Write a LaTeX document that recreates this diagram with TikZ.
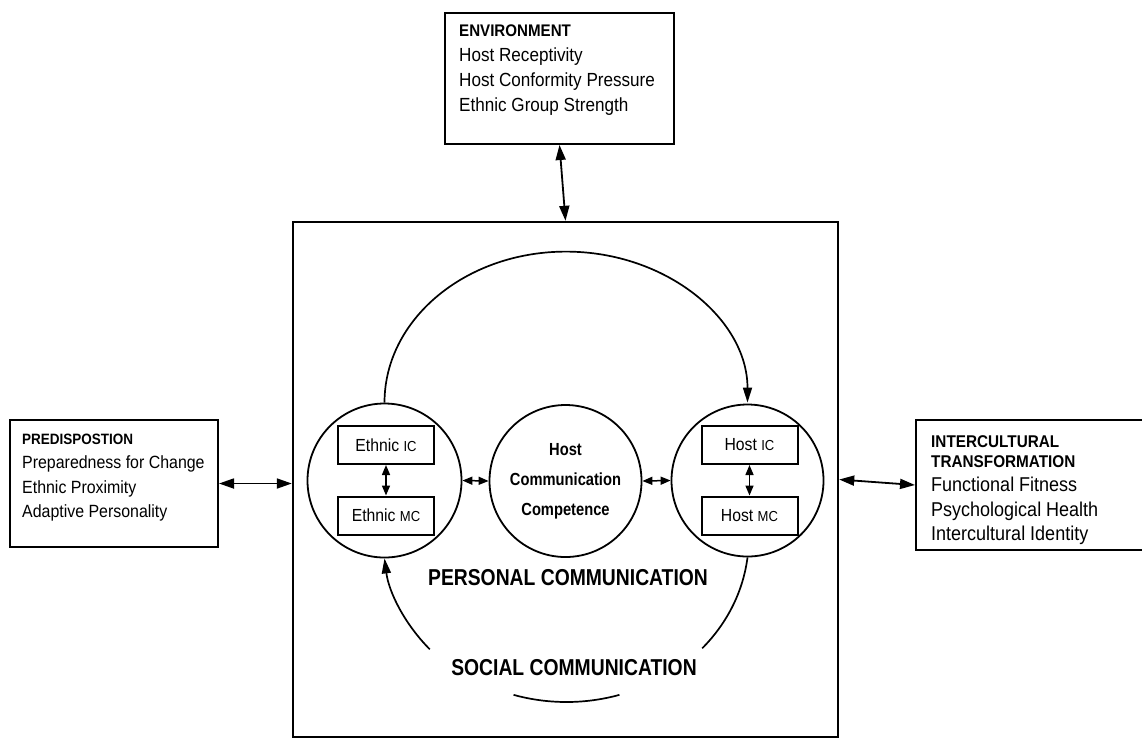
\documentclass[tikz,border=0pt]{standalone}
\usepackage{fontspec}
\setmainfont{Liberation Sans}[FakeStretch=0.9]
\newfontfamily\narrowfont{Liberation Sans}[FakeStretch=0.84]
\usetikzlibrary{arrows.meta,calc}
\begin{document}
\begin{tikzpicture}[x=1pt,y=-1pt,
  bigbox/.style={draw, line width=2.4pt, rectangle, inner sep=0pt},
  sidebox/.style={draw, line width=2pt, rectangle, inner sep=0pt},
  ring/.style={draw, circle, line width=1.8pt, inner sep=0pt},
  smallbox/.style={draw, line width=2pt, rectangle, inner sep=0pt, minimum width=96pt, minimum height=38pt, font=\fontsize{17.5}{20}\selectfont},
  big arrows/.style={line width=1.8pt, {Triangle[length=15pt,width=10pt]}-{Triangle[length=15pt,width=10pt]}},
  small arrows/.style={line width=1.5pt, {Triangle[length=10pt,width=8pt]}-{Triangle[length=10pt,width=8pt]}},
  flow/.style={line width=1.7pt},
  txt/.style={inner sep=0pt, align=left, anchor=north west},
  biglabel/.style={font=\narrowfont\bfseries\fontsize{23}{26}\selectfont}
]
\path[use as bounding box] (0,0) rectangle (1142,740);
\clip (0,0) rectangle (1142,740);

% outer boxes
\node[sidebox, minimum width=229pt, minimum height=131pt] (env) at (559.5,78.5) {};
\node[bigbox, minimum width=545pt, minimum height=515pt] (main) at (565.5,479.5) {};
\node[sidebox, minimum width=208pt, minimum height=127pt] (pred) at (114,483.5) {};
\node[sidebox, minimum width=254pt, minimum height=130pt] (int) at (1043,485) {};

% box texts
\node[txt, font=\fontsize{19}{25}\selectfont] (envtxt) at (459,25)
  {{\fontsize{16.8}{25}\selectfont\bfseries ENVIRONMENT}\\Host Receptivity\\Host Conformity Pressure\\Ethnic Group Strength};
\node[txt, font=\fontsize{17.7}{24.3}\selectfont] (predtxt) at (22,434)
  {{\fontsize{15}{24.3}\selectfont\bfseries PREDISPOSTION}\\Preparedness for Change\\Ethnic Proximity\\Adaptive Personality};
\node[txt, font=\bfseries\fontsize{17}{20}\selectfont] (inthead) at (931,435)
  {INTERCULTURAL\\TRANSFORMATION};
\node[txt, font=\fontsize{20}{24.3}\selectfont] (intbody) at (931,477)
  {Functional Fitness\\Psychological Health\\Intercultural Identity};

% circles
\node[ring, minimum size=154pt] (eth) at (384.5,480.5) {};
\node[ring, minimum size=152pt, font=\narrowfont\bfseries\fontsize{17.5}{30}\selectfont, align=center] (hcc) at (565.5,481) {Host\\Communication\\Competence};
\node[ring, minimum size=152pt] (host) at (747.5,480.5) {};

% inner boxes
\node[smallbox] (eic) at (386,445) {Ethnic {\fontsize{14.5}{16}\selectfont IC}};
\node[smallbox] (emc) at (386,515.5) {Ethnic {\fontsize{14.5}{16}\selectfont MC}};
\node[smallbox] (hic) at (749.5,445) {Host {\fontsize{14.5}{16}\selectfont IC}};
\node[smallbox] (hmc) at (749.5,515.5) {Host {\fontsize{14.5}{16}\selectfont MC}};

% labels
\node[biglabel] (pc) at (568,578) {PERSONAL COMMUNICATION};
\node[biglabel] (sc) at (574,668) {SOCIAL COMMUNICATION};

% connectors
\draw[big arrows] (env.south) -- (main.north);
\draw[big arrows] (pred.east) -- (pred.east -| main.west);
\draw[big arrows] (main.east) -- (int.west);
\draw[small arrows] (eth.east) -- (hcc.west);
\draw[small arrows] (hcc.east) -- (host.west);
\draw[small arrows] (eic.south) -- (emc.north);
\draw[small arrows] (hic.south) -- (hmc.north);

% arcs
\draw[flow, -{Triangle[length=15pt,width=9pt]}] (eth.north) arc[start angle=180, end angle=360, x radius=181.5, y radius=151];
\draw[flow, {Triangle[length=15pt,width=9pt]}-] (eth.south) arc[start angle=173.4, end angle=138, x radius=181, y radius=164];
\draw[flow] (host.south) arc[start angle=6.6, end angle=42, x radius=181, y radius=164];
\coordinate (soc) at (566.5,538);
\draw[flow] (soc) ++(107:181 and 164) arc[start angle=107, end angle=73, x radius=181, y radius=164];
\end{tikzpicture}
\end{document}
